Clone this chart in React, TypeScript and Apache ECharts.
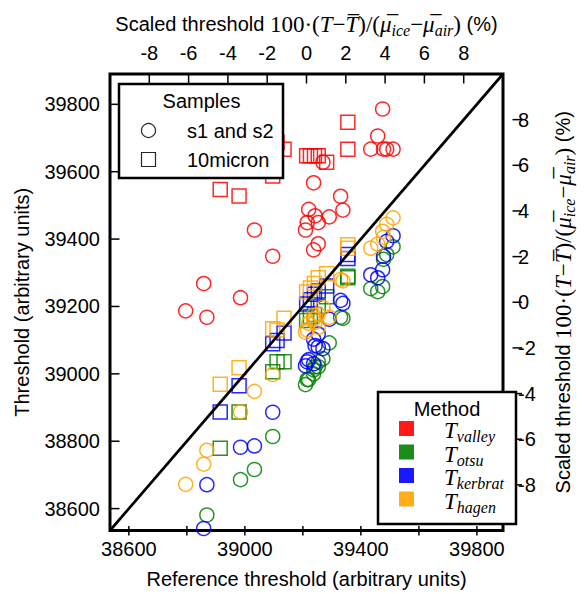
import React, { useEffect, useRef } from 'react';
import * as echarts from 'echarts';

// Axis limits (both axes share the same range; y = x reference line spans it)
const AXIS_MIN = 38535;
const AXIS_MAX = 39890;
const SCALED_MIN = -10;
const SCALED_MAX = 10;

// Tick values
const mainTicks = [38600, 38800, 39000, 39200, 39400, 39600, 39800];
const bottomLabels = [38600, 39000, 39400, 39800];
const scaledTicks = [-8, -6, -4, -2, 0, 2, 4, 6, 8];

// Samples s1 and s2 (circles): reference threshold and per-method thresholds
const circleRef = [38796, 38869, 38858, 38985, 39033, 39096, 39209, 39215, 39220, 39237, 39237, 39242, 39253, 39253, 39269, 39291, 39330, 39338, 39434, 39458, 39475, 39478, 39489, 39511];
const circleValley = [39187, 39168, 39268, 39226, 39427, 39349, 39427, 39449, 39488, 39567, 39368, 39469, 39449, 39386, 39628, 39466, 39527, 39486, 39667, 39706, 39786, 39667, 39667, 39667];
const circleOtsu = [null, 38581, null, 38686, 38716, 38814, 38968, 38983, 38983, 39000, 39012, 39021, 39036, 39021, 39045, 39092, 39168, 39165, 39253, 39244, 39259, 39340, 39354, 39377];
const circleKerbrat = [null, 38671, 38541, 38782, 38786, 38886, 39024, 39036, 39042, 39103, 39030, 39084, 39118, 39080, 39075, 39162, 39218, 39209, 39294, 39285, 39309, 39349, 39393, 39410];
const circleHagen = [38672, 38773, 38732, 38887, 38948, 38998, 39124, 39130, 39150, 39162, 39174, 39153, 39177, 39138, 39197, 39168, 39280, 39276, 39373, 39385, 39423, 39405, 39444, 39463];

// Sample 10micron (squares)
const squareRef = [38915, 38980, 39096, 39111, 39135, 39213, 39226, 39240, 39253, 39282, 39355, 39355];
const squareValley = [39547, 39528, 39587, 39687, 39667, 39647, 39647, 39647, 39647, 39628, 39747, 39667];
const squareOtsu = [38779, 38887, 39006, 39036, 39036, 39158, 39170, 39176, 39200, 39229, 39290, 39285];
const squareKerbrat = [38887, 38965, 39089, 39099, 39121, 39207, 39220, 39236, 39246, 39261, 39354, 39342];
const squareHagen = [38969, 39018, 39134, 39130, 39165, 39243, 39255, 39268, 39285, 39297, 39383, 39373];

const methodNames = ['valley', 'otsu', 'kerbrat', 'hagen'];
const methodColors = ['#ff0000', '#008000', '#0000ff', '#ffa500'];
const circleByMethod = [circleValley, circleOtsu, circleKerbrat, circleHagen];
const squareByMethod = [squareValley, squareOtsu, squareKerbrat, squareHagen];

const SANS = 'Liberation Sans, Arial, sans-serif';
const SERIF = 'Liberation Serif, Times New Roman, serif';

const mathRich = {
  s: { fontFamily: SANS, fontSize: 20, color: '#000' },
  m: { fontFamily: SERIF, fontSize: 23, color: '#000' },
  i: { fontFamily: SERIF, fontSize: 23, fontStyle: 'italic', color: '#000' },
  sub: { fontFamily: SERIF, fontSize: 16, fontStyle: 'italic', color: '#000', padding: [12, 0, 0, 0] },
};

const scaledTitle =
  '{s|Scaled threshold }{m|100·(}{i|T}{m|−}{i|T\u0305}{m|)/(}{i|μ\u0305}{sub|ice}{m|−}{i|μ\u0305}{sub|air}{m|)}{s| (%)}';

// grid box (layout only)
const GRID = { left: 110, top: 74, width: 412, height: 461.5 };

function pairs(xs: number[], ys: (number | null)[]) {
  const out: number[][] = [];
  xs.forEach((x, i) => {
    const y = ys[i];
    if (y != null) out.push([x, y]);
  });
  return out;
}

const TICK_LEN = 9.5;
const TICK_W = 1.5;
const tickRect = (x: number, y: number, w: number, h: number) => ({
  type: 'rect',
  shape: { x, y, width: w, height: h },
  style: { fill: '#000' },
  z: 90,
  silent: true,
});

export default function App() {
  const ref = useRef<HTMLDivElement>(null);
  useEffect(() => {
    if (!ref.current) return;
    const chart = echarts.init(ref.current, null, { renderer: 'svg' });

    const series: any[] = [];
    methodNames.forEach((m, k) => {
      series.push({
        type: 'scatter',
        name: 'T_' + m + ' s1s2',
        xAxisIndex: 0,
        yAxisIndex: 0,
        symbol: 'circle',
        symbolSize: 14,
        data: pairs(circleRef, circleByMethod[k]),
        itemStyle: { color: 'rgba(0,0,0,0)', borderColor: methodColors[k], borderWidth: 1.5, opacity: 0.85 },
        z: 2 + k,
      });
      series.push({
        type: 'scatter',
        name: 'T_' + m + ' 10micron',
        xAxisIndex: 0,
        yAxisIndex: 0,
        symbol: 'rect',
        symbolSize: 14,
        data: pairs(squareRef, squareByMethod[k]),
        itemStyle: { color: 'rgba(0,0,0,0)', borderColor: methodColors[k], borderWidth: 1.5, opacity: 0.85 },
        z: 2 + k,
      });
    });
    series.push({
      type: 'line',
      xAxisIndex: 0,
      yAxisIndex: 0,
      data: [[AXIS_MIN, AXIS_MIN], [AXIS_MAX, AXIS_MAX]],
      symbol: 'none',
      lineStyle: { color: '#000', width: 2.7 },
      z: 10,
      silent: true,
    });

    const labelBase = { color: '#000', fontSize: 20, fontFamily: SANS, formatter: (v: number) => String(v) };

    const legendGraphics: any[] = [];
    // Samples legend
    legendGraphics.push({
      type: 'rect', shape: { x: 119, y: 84, width: 164, height: 94 },
      style: { fill: '#fff', stroke: '#000', lineWidth: 2.5 }, z: 100,
    });
    legendGraphics.push({
      type: 'text', x: 201.5, y: 101, z: 101,
      style: { text: 'Samples', fontSize: 20, fontFamily: SANS, fill: '#000', align: 'center', verticalAlign: 'middle' },
    });
    legendGraphics.push({
      type: 'circle', shape: { cx: 148.5, cy: 130.5, r: 7 }, z: 101,
      style: { fill: 'none', stroke: '#000', lineWidth: 1.2, opacity: 0.85 },
    });
    legendGraphics.push({
      type: 'text', x: 187, y: 130.5, z: 101,
      style: { text: 's1 and s2', fontSize: 20, fontFamily: SANS, fill: '#000', align: 'left', verticalAlign: 'middle' },
    });
    legendGraphics.push({
      type: 'rect', shape: { x: 141.5, y: 152.5, width: 14, height: 14 }, z: 101,
      style: { fill: 'none', stroke: '#000', lineWidth: 1.2, opacity: 0.85 },
    });
    legendGraphics.push({
      type: 'text', x: 187, y: 159.5, z: 101,
      style: { text: '10micron', fontSize: 20, fontFamily: SANS, fill: '#000', align: 'left', verticalAlign: 'middle' },
    });
    // Method legend
    legendGraphics.push({
      type: 'rect', shape: { x: 378, y: 392, width: 138, height: 132 },
      style: { fill: '#fff', stroke: '#000', lineWidth: 2.5 }, z: 100,
    });
    legendGraphics.push({
      type: 'text', x: 447, y: 409, z: 101,
      style: { text: 'Method', fontSize: 20, fontFamily: SANS, fill: '#000', align: 'center', verticalAlign: 'middle' },
    });
    const rowY = [428.5, 452, 475.5, 499];
    methodNames.forEach((m, k) => {
      legendGraphics.push({
        type: 'rect', shape: { x: 399, y: rowY[k] - 7.5, width: 15, height: 15 }, z: 101,
        style: { fill: methodColors[k], opacity: 0.9 },
      });
      legendGraphics.push({
        type: 'text', x: 444, y: rowY[k] + 2, z: 101,
        style: { text: '{i|T}{sub|' + m + '}', rich: mathRich, align: 'left', verticalAlign: 'middle' },
      });
    });

    chart.setOption({
      animation: false,
      backgroundColor: '#fff',
      grid: { ...GRID, show: true, borderColor: '#000', borderWidth: 3, backgroundColor: 'transparent' },
      xAxis: [
        {
          type: 'value', position: 'bottom', min: AXIS_MIN, max: AXIS_MAX,
          axisLine: { show: false }, splitLine: { show: false }, axisTick: { show: false },
          axisLabel: { ...labelBase, margin: 8, customValues: bottomLabels },
          name: 'Reference threshold (arbitrary units)', nameLocation: 'middle', nameGap: 38.5,
          nameTextStyle: { color: '#000', fontSize: 20, fontFamily: SANS },
        },
        {
          type: 'value', position: 'top', min: SCALED_MIN, max: SCALED_MAX,
          axisLine: { show: false }, splitLine: { show: false }, axisTick: { show: false },
          axisLabel: { ...labelBase, margin: 11, customValues: scaledTicks },
          name: scaledTitle, nameLocation: 'middle', nameGap: 34,
          nameTextStyle: { rich: mathRich },
        },
      ],
      yAxis: [
        {
          type: 'value', position: 'left', min: AXIS_MIN, max: AXIS_MAX,
          axisLine: { show: false }, splitLine: { show: false }, axisTick: { show: false },
          axisLabel: { ...labelBase, margin: 10, customValues: mainTicks },
          name: 'Threshold (arbitrary units)', nameLocation: 'middle', nameGap: 78, nameRotate: 90,
          nameTextStyle: { color: '#000', fontSize: 20, fontFamily: SANS },
        },
        {
          type: 'value', position: 'right', min: SCALED_MIN, max: SCALED_MAX,
          axisLine: { show: false }, splitLine: { show: false }, axisTick: { show: false },
          axisLabel: { ...labelBase, margin: 15, customValues: scaledTicks },
          name: scaledTitle, nameLocation: 'middle', nameGap: 46, nameRotate: 90,
          nameTextStyle: { rich: mathRich },
        },
      ],
      series,
    });

    // Tick positions through the axes' scales (with a linear fallback on the same limits)
    const conv = (finder: any, v: number, lo: number, hi: number, a: number, b: number) => {
      let r: any;
      try {
        r = chart.convertToPixel(finder, v);
      } catch (e) {
        r = NaN;
      }
      if (Array.isArray(r)) r = r[0];
      r = Number(r);
      return isFinite(r) ? r : a + ((v - lo) / (hi - lo)) * (b - a);
    };
    const L = GRID.left;
    const R = GRID.left + GRID.width;
    const T = GRID.top;
    const B = GRID.top + GRID.height;
    const tickEls: any[] = [];
    mainTicks.forEach((v) => {
      const x = conv({ xAxisIndex: 0 }, v, AXIS_MIN, AXIS_MAX, L, R);
      const y = conv({ yAxisIndex: 0 }, v, AXIS_MIN, AXIS_MAX, B, T);
      tickEls.push(tickRect(x - TICK_W / 2, B - TICK_LEN, TICK_W, TICK_LEN));
      tickEls.push(tickRect(L, y - TICK_W / 2, TICK_LEN, TICK_W));
    });
    scaledTicks.forEach((v) => {
      const x = conv({ xAxisIndex: 1 }, v, SCALED_MIN, SCALED_MAX, L, R);
      const y = conv({ yAxisIndex: 1 }, v, SCALED_MIN, SCALED_MAX, B, T);
      tickEls.push(tickRect(x - TICK_W / 2, T, TICK_W, TICK_LEN));
      tickEls.push(tickRect(R - TICK_LEN, y - TICK_W / 2, TICK_LEN, TICK_W));
    });

    chart.setOption({ graphic: [...legendGraphics, ...tickEls] });
    return () => chart.dispose();
  }, []);
  return <div ref={ref} style={{ position: 'fixed', left: 0, top: 0, width: 585, height: 594 }} />;
}
